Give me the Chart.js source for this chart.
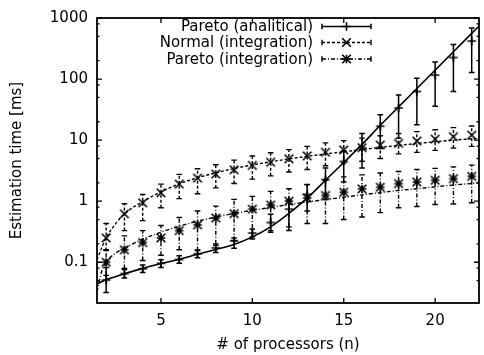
<!DOCTYPE html>
<html><head><meta charset="utf-8">
<script src="https://cdn.jsdelivr.net/npm/chart.js@4/dist/chart.umd.min.js"></script>
<style>html,body{margin:0;padding:0;background:#fff;overflow:hidden}#c{display:block}</style>
</head><body>
<canvas id="c" width="484" height="355"></canvas>
<script>
// ---- data ----
const processors = [2,3,4,5,6,7,8,9,10,11,12,13,14,15,16,17,18,19,20,21,22];

const analyticalMean = [0.051,0.065,0.078,0.096,0.111,0.137,0.172,0.225,0.30,0.447,0.74,1.29,2.26,4.47,7.5,16.9,33.5,62.5,116,225,419];
const analyticalLow  = [0.032,0.055,0.068,0.082,0.096,0.118,0.145,0.17,0.24,0.31,0.33,0.69,1.07,2.06,3.5,7.3,10.7,17.9,36,62.5,128];
const analyticalHigh = [0.082,0.076,0.09,0.11,0.128,0.158,0.19,0.25,0.35,0.61,1.05,1.87,3.5,6.65,12.8,26,55,103,191,369,689];

const normalMean = [0.25,0.62,0.94,1.37,1.91,2.39,2.78,3.27,3.85,4.35,4.94,5.52,6.33,6.92,7.53,8.3,8.85,9.66,10.4,11.4,12.1];
const normalLow  = [0.155,0.33,0.48,0.78,1.1,1.32,1.65,1.95,2.3,2.6,3.0,3.3,3.8,4.2,4.5,5.0,5.96,6.3,6.8,7.4,7.9];
const normalHigh = [0.43,0.91,1.29,1.9,2.75,3.4,3.95,4.7,5.5,6.2,7.0,7.9,9.0,9.8,10.8,11.8,12.8,13.8,14.8,16.0,17.0];

const paretoIntMean = [0.10,0.16,0.21,0.25,0.33,0.41,0.53,0.625,0.74,0.865,1.0,1.13,1.24,1.40,1.59,1.69,1.94,2.06,2.20,2.34,2.55];
const paretoIntLow  = [0.061,0.079,0.107,0.13,0.16,0.156,0.2,0.225,0.26,0.33,0.38,0.43,0.43,0.5,0.55,0.65,0.78,0.82,0.88,0.9,0.94];
const paretoIntHigh = [0.16,0.27,0.33,0.40,0.54,0.69,0.83,1.07,1.2,1.45,1.6,1.87,2.2,2.5,2.7,2.9,3.07,3.3,3.45,3.65,3.9];

// fitted curves
const fitN = [1.5,1.75,2,2.5,3,4,5,6,7,8,9,10,11,12,13,14,15,16,17,18,19,20,21,22,22.4];
const analyticalFit = [0.044,0.048,0.052,0.058,0.065,0.079,0.095,0.112,0.135,0.162,0.195,0.26,0.38,0.63,1.12,2.2,4.3,8.5,17.5,35,70,140,280,560,740];
const normalFit = [0.11,0.17,0.25,0.42,0.62,0.98,1.42,1.92,2.42,2.92,3.42,3.92,4.42,4.92,5.42,5.92,6.45,7.0,7.6,8.2,8.8,9.4,10.0,10.5,10.7];
const paretoIntFit = [0.033,0.07,0.10,0.14,0.17,0.24,0.31,0.39,0.47,0.55,0.63,0.71,0.79,0.88,0.97,1.06,1.16,1.27,1.38,1.5,1.6,1.72,1.84,1.95,2.0];

const seriesLabels = ['Pareto (analitical)','Normal (integration)','Pareto (integration)'];
const xTicks = [5,10,15,20];
const yTicks = [0.1,1,10,100,1000];
const yTickLabels = ['0.1','1','10','100','1000'];
const yMinorMult = [2,5,8];
const xRange = [1.5,22.4];
const yRange = [0.0215,1000];

// ---- styling ----
const FONT = "'DejaVu Sans', sans-serif";
Chart.defaults.font.family = FONT;
Chart.defaults.font.size = 15;
Chart.defaults.color = '#000';

const DASH_SOLID = [], DASH_DASHED = [3,2], DASH_DOTDASH = [4,2,1,2];
const MARK_W = 1.6, MARK_S = 4.3;

function markerPath(ctx, kind, cx, cy, s){
  ctx.beginPath();
  if (kind==='plus' || kind==='star'){ ctx.moveTo(cx-s,cy); ctx.lineTo(cx+s,cy); ctx.moveTo(cx,cy-s); ctx.lineTo(cx,cy+s); }
  if (kind==='x' || kind==='star'){ ctx.moveTo(cx-s,cy-s); ctx.lineTo(cx+s,cy+s); ctx.moveTo(cx-s,cy+s); ctx.lineTo(cx+s,cy-s); }
  ctx.stroke();
}
function makeMarker(kind){
  const c = document.createElement('canvas'); c.width = 12; c.height = 12;
  const g = c.getContext('2d'); g.strokeStyle = '#000'; g.lineWidth = MARK_W;
  markerPath(g, kind, 6, 6, MARK_S);
  return c;
}
const pts = (xs, ys) => xs.map((x,i)=>({x, y: ys[i]}));

const fitBase = {showLine:true, pointRadius:0, borderColor:'#000', cubicInterpolationMode:'monotone', fill:false};
const markBase = {showLine:false, borderColor:'#000', backgroundColor:'#000'};

const datasets = [
  Object.assign({label:'fit1', data:pts(fitN,analyticalFit), borderWidth:1.6, borderDash:DASH_SOLID}, fitBase),
  Object.assign({label:'fit2', data:pts(fitN,normalFit), borderWidth:1.4, borderDash:DASH_DASHED}, fitBase),
  Object.assign({label:'fit3', data:pts(fitN,paretoIntFit), borderWidth:1.4, borderDash:DASH_DOTDASH}, fitBase),
  Object.assign({label:seriesLabels[0], data:pts(processors,analyticalMean), pointStyle:makeMarker('plus'), errLow:analyticalLow, errHigh:analyticalHigh, errDash:DASH_SOLID, errWidth:1.5}, markBase),
  Object.assign({label:seriesLabels[1], data:pts(processors,normalMean), pointStyle:makeMarker('x'), errLow:normalLow, errHigh:normalHigh, errDash:DASH_DASHED, errWidth:1.4}, markBase),
  Object.assign({label:seriesLabels[2], data:pts(processors,paretoIntMean), pointStyle:makeMarker('star'), errLow:paretoIntLow, errHigh:paretoIntHigh, errDash:DASH_DOTDASH, errWidth:1.4}, markBase),
];
const legendStyle = [
  {dash:DASH_SOLID, marker:'plus', width:1.5},
  {dash:DASH_DASHED, marker:'x', width:1.4},
  {dash:DASH_DOTDASH, marker:'star', width:1.4},
];

const errorBars = {
  id:'errorBars',
  beforeDatasetsDraw(chart){
    const {ctx, chartArea:a, scales:{x,y}} = chart;
    ctx.save();
    ctx.beginPath(); ctx.rect(a.left, a.top, a.right-a.left, a.bottom-a.top); ctx.clip();
    ctx.strokeStyle = '#000';
    chart.data.datasets.forEach(ds=>{
      if (!ds.errLow) return;
      ctx.lineWidth = ds.errWidth;
      ds.data.forEach((p,i)=>{
        const px = x.getPixelForValue(p.x);
        const y1 = y.getPixelForValue(ds.errLow[i]);
        const y2 = y.getPixelForValue(ds.errHigh[i]);
        ctx.setLineDash(ds.errDash);
        ctx.beginPath(); ctx.moveTo(px,y1); ctx.lineTo(px,y2); ctx.stroke();
        ctx.setLineDash([]);
        ctx.beginPath();
        ctx.moveTo(px-2.8,y1); ctx.lineTo(px+2.8,y1);
        ctx.moveTo(px-2.8,y2); ctx.lineTo(px+2.8,y2);
        ctx.stroke();
      });
    });
    ctx.restore();
  }
};

const frame = {
  id:'frame',
  afterDraw(chart){
    const {ctx, chartArea:a, scales:{x,y}} = chart;
    ctx.save();
    ctx.strokeStyle = '#000'; ctx.setLineDash([]);
    ctx.lineWidth = 1.8;
    ctx.strokeRect(a.left, a.top, a.right-a.left, a.bottom-a.top);
    ctx.lineWidth = 1.3;
    ctx.beginPath();
    xTicks.forEach(v=>{
      const px = x.getPixelForValue(v);
      ctx.moveTo(px,a.bottom); ctx.lineTo(px,a.bottom-5);
      ctx.moveTo(px,a.top); ctx.lineTo(px,a.top+5);
    });
    yTicks.forEach(v=>{
      const py = y.getPixelForValue(v);
      ctx.moveTo(a.left,py); ctx.lineTo(a.left+5,py);
      ctx.moveTo(a.right,py); ctx.lineTo(a.right-5,py);
    });
    [0.01,0.1,1,10,100].forEach(d=>{
      yMinorMult.forEach(m=>{
        const v = d*m;
        if (v <= yRange[0] || v >= yRange[1]) return;
        const py = y.getPixelForValue(v);
        ctx.moveTo(a.left,py); ctx.lineTo(a.left+2.5,py);
        ctx.moveTo(a.right,py); ctx.lineTo(a.right-2.5,py);
      });
    });
    ctx.stroke();

    // legend (gnuplot style: text right-aligned, sample to the right)
    const rows = [26.5, 42.5, 59];
    ctx.font = '15px ' + FONT;
    ctx.fillStyle = '#000';
    ctx.textAlign = 'right'; ctx.textBaseline = 'middle';
    seriesLabels.forEach((t,i)=>{
      const yy = rows[i];
      ctx.fillText(t, 313, yy+1);
      const st = legendStyle[i];
      ctx.lineWidth = st.width;
      ctx.setLineDash(st.dash);
      ctx.beginPath(); ctx.moveTo(322,yy); ctx.lineTo(371,yy); ctx.stroke();
      ctx.setLineDash([]);
      ctx.beginPath(); ctx.moveTo(322,yy-2.8); ctx.lineTo(322,yy+2.8); ctx.moveTo(371,yy-2.8); ctx.lineTo(371,yy+2.8); ctx.stroke();
      ctx.lineWidth = MARK_W;
      markerPath(ctx, st.marker, 346.5, yy, MARK_S);
    });
    ctx.restore();
  }
};

new Chart(document.getElementById('c'), {
  type:'scatter',
  data:{datasets},
  options:{
    responsive:false, animation:false, devicePixelRatio:1,
    layout:{padding:{top:15, right:1, left:0, bottom:0}},
    plugins:{legend:{display:false}, tooltip:{enabled:false}, title:{display:false}},
    scales:{
      x:{
        type:'linear', min:xRange[0], max:xRange[1],
        grid:{display:false, drawTicks:false}, border:{display:false},
        afterBuildTicks:s=>{ s.ticks = xTicks.map(v=>({value:v})); },
        afterFit:s=>{ s.height = 52; },
        ticks:{autoSkip:false, maxRotation:0, padding:9, font:{size:15}, callback:v=>String(v)},
        title:{display:true, text:'# of processors (n)', font:{size:15}, padding:{top:0,bottom:1}}
      },
      y:{
        type:'logarithmic', min:yRange[0], max:yRange[1],
        grid:{display:false, drawTicks:false}, border:{display:false},
        afterBuildTicks:s=>{ s.ticks = yTicks.map(v=>({value:v})); },
        afterFit:s=>{ s.width = 97; },
        ticks:{autoSkip:false, padding:9, font:{size:15}, callback:(v)=>{ const i = yTicks.indexOf(v); return i>=0 ? yTickLabels[i] : ''; }},
        title:{display:true, text:'Estimation time [ms]', font:{size:15}, padding:{top:8,bottom:0}}
      }
    }
  },
  plugins:[errorBars, frame]
});
</script>
</body></html>
